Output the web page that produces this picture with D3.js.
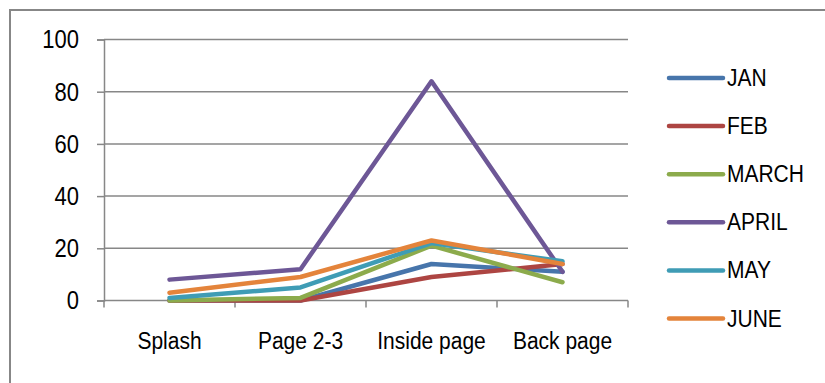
<!DOCTYPE html>
<html>
<head>
<meta charset="utf-8">
<script src="https://cdn.jsdelivr.net/npm/d3@7"></script>
<style>
  html, body { margin: 0; padding: 0; background: #fff; }
  svg { display: block; }
  text { font-family: "Liberation Sans", Arial, sans-serif; fill: #000; }
</style>
</head>
<body>
<script>
// Page sections on the x axis
const categories = ["Splash", "Page 2-3", "Inside page", "Back page"];

// One series per month
const seriesNames = ["JAN", "FEB", "MARCH", "APRIL", "MAY", "JUNE"];
const janValues   = [0, 0, 14, 11];
const febValues   = [0, 0, 9, 14];
const marchValues = [0, 1, 21, 7];
const aprilValues = [8, 12, 84, 11];
const mayValues   = [1, 5, 22, 15];
const juneValues  = [3, 9, 23, 14];
const seriesValues = [janValues, febValues, marchValues, aprilValues, mayValues, juneValues];
const seriesColors = ["#4775ab", "#ad4542", "#8cab4c", "#6d5796", "#3f9cb5", "#e4843b"];

const yTicks = [0, 20, 40, 60, 80, 100];

const W = 825, H = 383;
const plot = { left: 104, right: 628, top: 39.5, bottom: 300.5 };
const gray = "#878787";
const textStretch = "scale(1,1.15)";

const svg = d3.select("body").append("svg").attr("width", W).attr("height", H);

// Outer chart frame (extends past the right and bottom edges)
svg.append("rect")
  .attr("x", 10).attr("y", 10).attr("width", 830).attr("height", 390)
  .attr("fill", "none").attr("stroke", gray).attr("stroke-width", 2);

const x = d3.scaleBand().domain(categories).range([plot.left, plot.right]).padding(0);
const y = d3.scaleLinear().domain([0, 100]).range([plot.bottom, plot.top]);

// Horizontal gridlines
svg.append("g").selectAll("line").data(yTicks.filter(t => t > 0)).join("line")
  .attr("x1", plot.left).attr("x2", plot.right)
  .attr("y1", d => y(d)).attr("y2", d => y(d))
  .attr("stroke", gray).attr("stroke-width", 1.5);

// Y axis
const yAxis = svg.append("g")
  .attr("transform", `translate(${plot.left},0)`)
  .call(d3.axisLeft(y).tickValues(yTicks).tickSize(7).tickPadding(25));
yAxis.select(".domain").attr("stroke", gray).attr("stroke-width", 1.5);
yAxis.selectAll(".tick line").attr("stroke", gray).attr("stroke-width", 1.5);
yAxis.selectAll(".tick text")
  .style("font-family", "'Liberation Sans', Arial, sans-serif")
  .attr("font-size", 22).attr("fill", "#000")
  .attr("x", 0).attr("dy", "0.33em")
  .attr("transform", `translate(-25,0) ${textStretch}`);

// X axis: ticks sit on band boundaries, labels at band centres
const boundaries = categories.map(c => x(c)).concat([plot.right]);
const xAxisG = svg.append("g").attr("transform", `translate(0,${plot.bottom})`);
xAxisG.append("line")
  .attr("x1", plot.left).attr("x2", plot.right)
  .attr("stroke", gray).attr("stroke-width", 1.5);
xAxisG.selectAll("line.tk").data(boundaries).join("line")
  .attr("class", "tk")
  .attr("x1", d => d).attr("x2", d => d).attr("y1", 0).attr("y2", 7)
  .attr("stroke", gray).attr("stroke-width", 1.5);
xAxisG.selectAll("text").data(categories).join("text")
  .attr("transform", d => `translate(${x(d) + x.bandwidth() / 2},48) ${textStretch}`)
  .attr("text-anchor", "middle")
  .attr("font-size", 21)
  .text(d => d);

// Series lines
const line = d3.line()
  .x((d, i) => x(categories[i]) + x.bandwidth() / 2)
  .y(d => y(d));

svg.append("g").selectAll("path").data(seriesValues).join("path")
  .attr("d", d => line(d))
  .attr("fill", "none")
  .attr("stroke", (d, i) => seriesColors[i])
  .attr("stroke-width", 4.5)
  .attr("stroke-linejoin", "round")
  .attr("stroke-linecap", "round");

// Legend
const legend = svg.append("g").attr("transform", "translate(669,78)");
const item = legend.selectAll("g").data(seriesNames).join("g")
  .attr("transform", (d, i) => `translate(0,${i * 48.1})`);
item.append("line")
  .attr("x1", 0).attr("x2", 54)
  .attr("stroke", (d, i) => seriesColors[i])
  .attr("stroke-width", 4.5).attr("stroke-linecap", "round");
item.append("text")
  .attr("transform", `translate(58,8) ${textStretch}`)
  .attr("font-size", 21)
  .text(d => d);
</script>
</body>
</html>
